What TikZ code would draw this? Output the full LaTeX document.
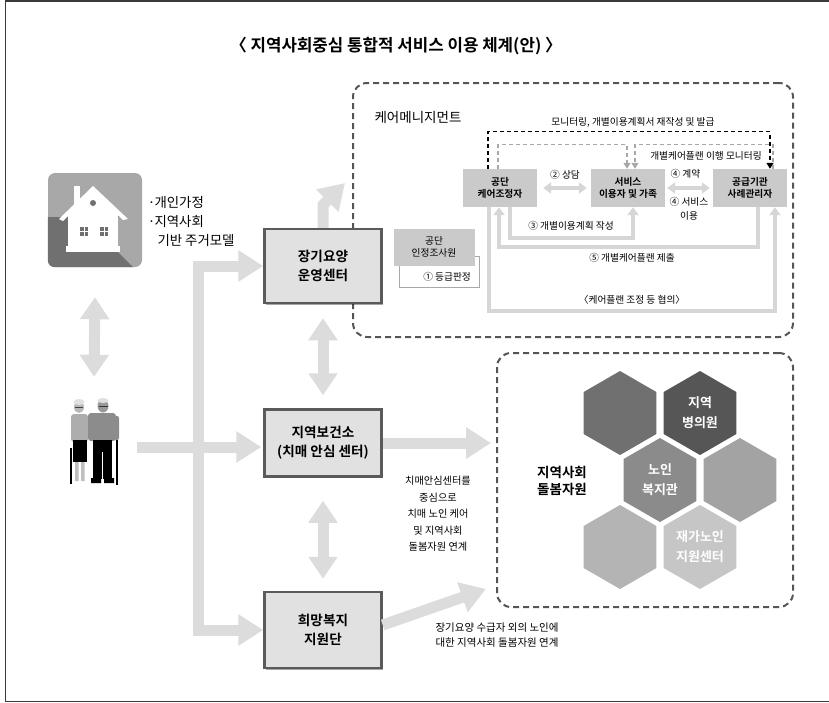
\documentclass[tikz,border=0pt]{standalone}
\usepackage{fontspec}
\setmainfont{Noto Sans CJK KR}[BoldFont={Noto Sans CJK KR Bold}]
\usepackage{tikz}
\usetikzlibrary{arrows.meta, shadows, positioning, calc}

\definecolor{framegray}{HTML}{3A3A3A}
\definecolor{boxgray}{HTML}{E1E1E1}
\definecolor{edgegray}{HTML}{5A5A5A}
\definecolor{cmgray}{HTML}{CACACA}
\definecolor{bandgray}{HTML}{DCDCDC}
\definecolor{flowgray}{HTML}{D6D6D6}
\definecolor{dashgray}{HTML}{555555}
\definecolor{loopgray}{HTML}{A8A8A8}
\definecolor{hexA}{HTML}{707070}
\definecolor{hexB}{HTML}{565656}
\definecolor{hexC}{HTML}{8B8B8B}
\definecolor{hexD}{HTML}{A3A3A3}
\definecolor{hexE}{HTML}{B4B4B4}
\definecolor{hexF}{HTML}{C6C6C6}

\newcommand{\middot}{\makebox[6pt][c]{·}}

\tikzset{
  mainbox/.style={draw=edgegray, line width=2.5pt, fill=boxgray, minimum width=117pt,
    minimum height=74pt, align=center, inner sep=0pt,
    font=\bfseries\fontsize{13.6}{19}\selectfont,
    drop shadow={shadow xshift=1.5pt, shadow yshift=-1.5pt, opacity=.35, fill=black}},
  cmbox/.style={fill=cmgray, minimum width=74pt, minimum height=38pt, align=center,
    inner sep=0pt, font=\bfseries\fontsize{9.7}{12.5}\selectfont},
  dashbox/.style={draw=dashgray, line width=2pt, dash pattern=on 6pt off 4pt, rounded corners=14pt},
  band/.style={draw=bandgray, line width=11pt, line join=miter},
  bigtip/.style={-{Triangle[width=30pt, length=25pt]}},
  twoway/.style={band, {Triangle[width=28pt, length=22pt]}-{Triangle[width=28pt, length=22pt]}},
  flow/.style={draw=flowgray, line width=3.5pt, -{Triangle[width=11pt, length=8pt]}},
  flowtwo/.style={flow, {Triangle[width=11pt, length=8pt]}-{Triangle[width=11pt, length=8pt]}},
  monitor/.style={line width=1.3pt, dash pattern=on 4pt off 3pt, -{Triangle[width=7pt, length=6pt]}},
  note/.style={font=\fontsize{9.7}{14}\selectfont},
  hextext/.style={align=center, text=white, font=\bfseries\fontsize{13}{20}\selectfont}
}

\begin{document}
\begin{tikzpicture}[x=1pt, y=-1pt]
\useasboundingbox (0,0) rectangle (829,702);
\draw[framegray, line width=1.5pt] (829,0.75) -- (5.5,0.75) -- (5.5,701.25) -- (829,701.25);

\node[font=\bfseries\fontsize{16.8}{18}\selectfont] (title) at (396,46)
  {〈 지역사회중심 통합적 서비스 이용 체계(안) 〉};

% dashed frames
\node[dashbox, minimum width=440pt, minimum height=254pt] (cm) at (573,210) {};
\node[dashbox, minimum width=296pt, minimum height=254pt] (res) at (645,480) {};

% left column
\node[mainbox] (jangi) at (323,266) {장기요양\\운영센터};
\node[mainbox, minimum height=67pt] (health) at (323,443) {지역보건소\\(치매 안심 센터)};
\node[mainbox, minimum height=76pt] (hope) at (323,630) {희망복지\\지원단};

\node[rounded corners=7pt, fill=hexD!95, minimum size=94pt] (house) at (95,220) {};
\node[minimum width=50pt, minimum height=90pt, inner sep=0pt] (elders) at (94,440) {};

\node[anchor=north west, align=left, font=\fontsize{13.4}{19}\selectfont] (homelabel) at (145,193)
  {\middot 개인가정\\\middot 지역사회\\\phantom{\middot} 기반 주거모델};

% house icon
\begin{scope}
  \clip[rounded corners=7pt] (house.north west) rectangle (house.south east);
  \fill[hexA] (62,217) -- (93,187) -- (125,217) -- (118,217) -- (118,252) -- (150,284) -- (20,284) -- (20,217) -- cycle;
\end{scope}
\fill[white] (74,186) rectangle (80,205);
\fill[white] (59,219) -- (93,186) -- (128,219) -- (123,220) -- (93,192) -- (63,221) -- cycle;
\fill[white] (68,214) -- (93,191) -- (118,214) -- (118,247) -- (68,247) -- cycle;
\fill[white] (66,246) rectangle (120,252);
\fill[hexA] (93,203) circle (3);
\foreach \wx in {80,100}
{
  \fill[hexA] (\wx,227) rectangle +(3.5,4);
  \fill[hexA] (\wx+4.5,227) rectangle +(3.5,4);
  \fill[hexA] (\wx,232) rectangle +(3.5,4);
  \fill[hexA] (\wx+4.5,232) rectangle +(3.5,4);
}

% elderly couple
\fill[black!32, rounded corners=3pt] (71,414) rectangle (88,442);
\fill[black!28] (79,407) ellipse (5 and 6);
\fill[black!12] (79,402) ellipse (5.5 and 3);
\draw[black!75, line width=.8pt] (75,407) -- (83,407);
\fill[black] (73,440) rectangle (87,462);
\fill[black!25] (75,462) rectangle (78.5,481) (81,462) rectangle (84.5,481);
\draw[black, line width=1.8pt] (71,448) -- (71,484);
\fill[black!45, rounded corners=3pt] (88,413) rectangle (116,441);
\fill[black!45, rounded corners=2pt] (112,416) rectangle (119,440);
\fill[black!40] (103,406) ellipse (5.5 and 6.5);
\fill[black!12] (103,400.5) ellipse (5.5 and 2.5);
\draw[black!80, line width=.8pt] (98.5,406) -- (107.5,406);
\fill[black] (93,440) rectangle (112,479);
\draw[white, line width=1pt] (102.5,452) -- (102.5,480);
\fill[black] (91,478) rectangle (101,483) (104,478) rectangle (114,483);
\draw[black, line width=2pt] (117,440) -- (117,485);

% wide arrows
\draw[twoway] ([yshift=-30pt]house.south) -- ([yshift=18pt]elders.north);
\coordinate (trunktop) at (198,266);
\coordinate (trunkbot) at (198,630);
\draw[band, {Triangle[width=30pt, length=25pt]}-{Triangle[width=30pt, length=25pt]}]
  (jangi.west) -- (trunktop) -- (trunkbot) -- (hope.west);
\draw[band, bigtip] ([xshift=18pt, yshift=-7pt]elders.east) -- ([xshift=-2pt, yshift=-4pt]health.west);
\draw[twoway] ([yshift=-14pt]jangi.south) -- ([yshift=13pt]health.north);
\draw[twoway] ([yshift=-23pt]health.south) -- ([yshift=12pt]hope.north);
\draw[band, bigtip] (jangi.north) -- (323,205) -- (345,183);
\draw[band, bigtip] (health.east) -- ([xshift=-5pt]res.west |- health.east);
\draw[band, bigtip] ([yshift=5pt]hope.east) -- ([xshift=-10pt, yshift=19pt]res.south west);

% care management
\node[anchor=west, font=\fontsize{13.5}{16}\selectfont] (cmtitle) at (371,117) {케어메니지먼트};
\node[cmbox] (kcoord) at (500,188) {공단\\케어조정자};
\node[cmbox] (user) at (628,188) {서비스\\이용자 및 가족};
\node[cmbox] (provider) at (750,188) {공급기관\\사례관리자};

\node[draw=loopgray, line width=.8pt, minimum width=80pt, minimum height=31pt, inner sep=0pt] (grade) at (439,271.5) {};
\node[note, anchor=east] (gradetext) at ([xshift=-5pt, yshift=-5.5pt]grade.east) {① 등급판정};
\node[cmbox, font=\fontsize{9.7}{12.5}\selectfont, minimum width=81pt, minimum height=37pt] (inspector) at (434,247) {공단\\인정조사원};

\draw[flowtwo] ([xshift=6pt]kcoord.east) -- ([xshift=-4pt]user.west);
\draw[flowtwo] ([xshift=2pt]user.east) -- ([xshift=-3pt]provider.west);
\node[note] (consult) at (565,175) {② 상담};
\node[note, anchor=west] (contract) at (667,174) {④ 계약};
\node[note, align=center] (use) at (689,209) {④ 서비스\\이용};

\draw[flow] ([xshift=10pt]kcoord.south) -- ++(0,31) -| ([xshift=5pt]user.south);
\draw[flow] ([xshift=8pt]provider.south) -- ++(0,40) -| ([xshift=-1pt]kcoord.south);
\draw[flow] ([xshift=-11pt]kcoord.south) -- ++(0,104) -| ([xshift=25pt]provider.south);
\node[note] (plan) at (571,226) {③ 개별이용계획 작성};
\node[note] (submit) at (632,258) {⑤ 개별케어플랜 제출};
\node[note] (adjust) at (632,300) {〈케어플랜 조정 등 협의〉};

\draw[monitor] ([xshift=-12pt]kcoord.north) -- ++(0,-37) -| ([xshift=20pt]provider.north);
\draw[monitor, loopgray] ([xshift=-2pt]kcoord.north) -- ++(0,-24) -| ([xshift=-1pt]user.north);
\draw[monitor, loopgray] ([xshift=23pt]provider.north) -- ++(0,-24) -| ([xshift=7pt]user.north);
\node[note] (reissue) at (633,122) {모니터링, 개별이용계획서 재작성 및 발급};
\node[note] (follow) at (706,156) {개별케어플랜 이행 모니터링};

% community care resources
\foreach \cx/\cy/\shade in {620/413/hexA, 700/413/hexB, 660/480/hexC, 740/480/hexD, 620/547/hexE, 700/547/hexF}
{
  \fill[\shade] (\cx,\cy) +(90:42) -- +(30:42) -- +(-30:42) -- +(-90:42) -- +(-150:42) -- +(150:42) -- cycle;
}
\node[hextext] (clinic) at (700,413) {지역\\병의원};
\node[hextext] (welfare) at (660,480) {노인\\복지관};
\node[hextext] (homecare) at (700,547) {재가노인\\지원센터};
\node[align=center, font=\bfseries\fontsize{13.5}{17}\selectfont] (reslabel) at (562,481) {지역사회\\돌봄자원};

\node[align=center, font=\fontsize{10.2}{16.5}\selectfont] (healthnote) at (438,514)
  {치매안심센터를\\중심으로\\치매 노인 케어\\및 지역사회\\돌봄자원 연계};
\node[anchor=west, align=left, font=\fontsize{10.5}{15}\selectfont] (hopenote) at (432,635)
  {장기요양 수급자 외의 노인에\\대한 지역사회 돌봄자원 연계};
\end{tikzpicture}
\end{document}
